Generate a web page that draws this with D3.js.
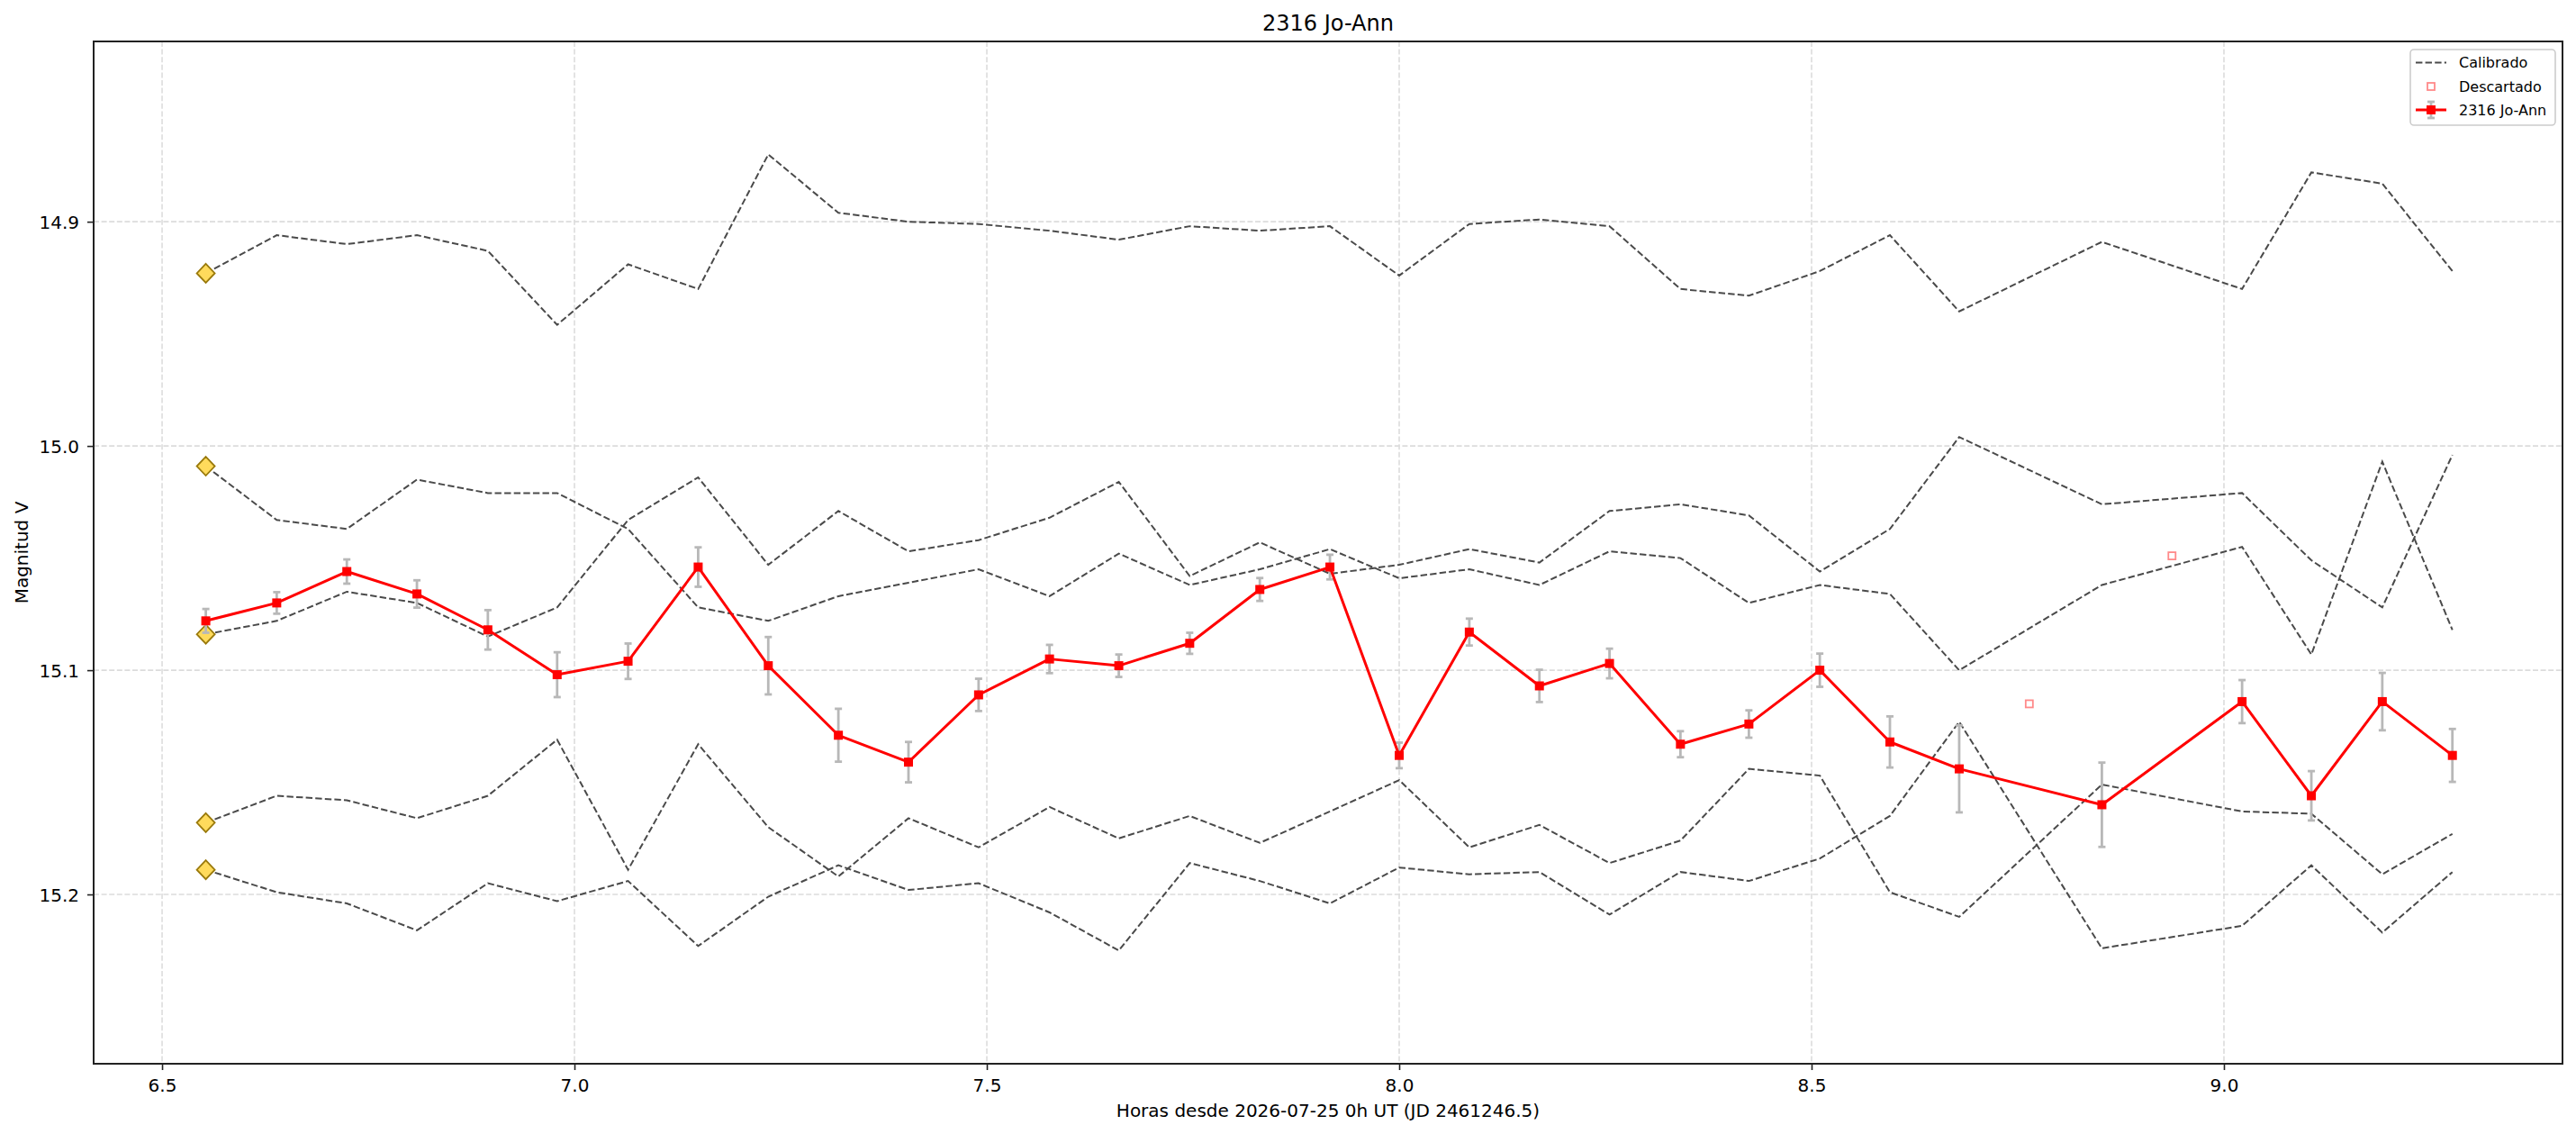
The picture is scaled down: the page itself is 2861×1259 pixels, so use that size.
<!DOCTYPE html>
<html><head><meta charset="utf-8">
<script src="https://cdn.jsdelivr.net/npm/d3@7"></script>
<style>
html,body{margin:0;padding:0;background:#fff;}
svg{display:block;font-family:"DejaVu Sans",sans-serif;}
</style></head>
<body>
<svg id="chart" width="2861" height="1259"></svg>
<script>
// ---------------- data ----------------
const validTimes = [6.553, 6.639, 6.724, 6.809, 6.895, 6.979, 7.065, 7.150, 7.235, 7.320,
  7.405, 7.490, 7.576, 7.660, 7.746, 7.831, 7.916, 8.000, 8.085, 8.170,
  8.255, 8.341, 8.424, 8.510, 8.595, 8.679, 8.852, 9.022, 9.106, 9.192, 9.277];
const targetMag = [15.078, 15.070, 15.056, 15.066, 15.082, 15.102, 15.096, 15.054, 15.098, 15.129,
  15.141, 15.111, 15.095, 15.098, 15.088, 15.064, 15.054, 15.138, 15.083, 15.107,
  15.097, 15.133, 15.124, 15.100, 15.132, 15.144, 15.160, 15.114, 15.156, 15.114, 15.138];
const targetErr = [0.0053, 0.0048, 0.0054, 0.0061, 0.0088, 0.0100, 0.0079, 0.0088, 0.0128, 0.0118,
  0.0090, 0.0072, 0.0063, 0.0050, 0.0047, 0.0051, 0.0055, 0.0057, 0.0060, 0.0072,
  0.0066, 0.0058, 0.0061, 0.0074, 0.0114, 0.0194, 0.0188, 0.0096, 0.0110, 0.0128, 0.0118];
const discardedTimes = [8.764, 8.937];
const discardedMag = [15.115, 15.049];
const compA = [14.923, 14.906, 14.910, 14.906, 14.913, 14.946, 14.919, 14.930, 14.870, 14.896,
  14.900, 14.901, 14.904, 14.908, 14.902, 14.904, 14.902, 14.924, 14.901, 14.899,
  14.902, 14.930, 14.933, 14.922, 14.906, 14.940, 14.909, 14.930, 14.878, 14.883, 14.922];
const compB = [15.009, 15.033, 15.037, 15.015, 15.021, 15.021, 15.037, 15.072, 15.078, 15.067,
  15.061, 15.055, 15.067, 15.048, 15.062, 15.055, 15.046, 15.059, 15.055, 15.062,
  15.047, 15.050, 15.070, 15.062, 15.066, 15.100, 15.062, 15.045, 15.093, 15.007, 15.082];
const compC = [15.084, 15.078, 15.065, 15.070, 15.085, 15.072, 15.033, 15.014, 15.053, 15.029,
  15.047, 15.042, 15.032, 15.016, 15.058, 15.043, 15.057, 15.053, 15.046, 15.052,
  15.029, 15.026, 15.031, 15.056, 15.037, 14.996, 15.026, 15.021, 15.051, 15.072, 15.004];
const compD = [15.168, 15.156, 15.158, 15.166, 15.156, 15.131, 15.189, 15.133, 15.170, 15.192,
  15.166, 15.179, 15.161, 15.175, 15.165, 15.177, 15.163, 15.149, 15.179, 15.169,
  15.186, 15.176, 15.144, 15.147, 15.199, 15.210, 15.151, 15.163, 15.164, 15.191, 15.173];
const compE = [15.189, 15.199, 15.204, 15.216, 15.195, 15.203, 15.194, 15.223, 15.201, 15.187,
  15.198, 15.195, 15.208, 15.225, 15.186, 15.194, 15.204, 15.188, 15.191, 15.190,
  15.209, 15.190, 15.194, 15.184, 15.165, 15.123, 15.224, 15.214, 15.187, 15.217, 15.190];
const xTicks = [6.5, 7.0, 7.5, 8.0, 8.5, 9.0];
const yTicks = [14.9, 15.0, 15.1, 15.2];
const xDomain = [6.417, 9.4105];
const yDomain = [14.8196, 15.2755];
const titleText = "2316 Jo-Ann";
const xLabelText = "Horas desde 2026-07-25 0h UT (JD 2461246.5)";
const yLabelText = "Magnitud V";
const legendLabels = ["Calibrado", "Descartado", "2316 Jo-Ann"];

// ---------------- layout ----------------
const W = 2861, H = 1259;
const L = 104, R = 2846, T = 46, B = 1181;
const svg = d3.select("#chart");
const x = d3.scaleLinear().domain(xDomain).range([L, R]);
const y = d3.scaleLinear().domain(yDomain).range([T, B]);

svg.append("rect").attr("width", W).attr("height", H).attr("fill", "#fff");
svg.append("defs").append("clipPath").attr("id", "clip")
  .append("rect").attr("x", L).attr("y", T).attr("width", R - L).attr("height", B - T);

// grid
const grid = svg.append("g").attr("clip-path", "url(#clip)");
grid.selectAll("line.gx").data(xTicks).join("line")
  .attr("x1", d => x(d)).attr("x2", d => x(d)).attr("y1", T).attr("y2", B)
  .attr("stroke", "#dcdcdc").attr("stroke-width", 1.6).attr("stroke-dasharray", "6,2.6");
grid.selectAll("line.gy").data(yTicks).join("line")
  .attr("y1", d => y(d)).attr("y2", d => y(d)).attr("x1", L).attr("x2", R)
  .attr("stroke", "#dcdcdc").attr("stroke-width", 1.6).attr("stroke-dasharray", "6,2.6");

const plot = svg.append("g").attr("clip-path", "url(#clip)");

// comparison stars
const comps = [compA, compB, compC, compD, compE];
const line = d3.line().x(d => x(d[0])).y(d => y(d[1]));
comps.forEach(c => {
  const pts = validTimes.map((t, i) => [t, c[i]]);
  plot.append("path").attr("d", line(pts)).attr("fill", "none")
    .attr("stroke", "#4a4a4a").attr("stroke-width", 2).attr("stroke-dasharray", "7.4,3.2");
});
// diamonds at first point
comps.forEach(c => {
  const cx = x(validTimes[0]), cy = y(c[0]);
  plot.append("path")
    .attr("d", `M${cx},${cy - 10.5}L${cx + 10},${cy}L${cx},${cy + 10.5}L${cx - 10},${cy}Z`)
    .attr("fill", "#ffdb5c").attr("stroke", "#9a7a0c").attr("stroke-width", 1.8);
});

// error bars
const eb = plot.append("g").attr("stroke", "#b8b8b8").attr("stroke-width", 2.8);
validTimes.forEach((t, i) => {
  const cx = x(t), y1 = y(targetMag[i] - targetErr[i]), y2 = y(targetMag[i] + targetErr[i]);
  eb.append("line").attr("x1", cx).attr("x2", cx).attr("y1", y1).attr("y2", y2);
  eb.append("line").attr("x1", cx - 4).attr("x2", cx + 4).attr("y1", y1).attr("y2", y1);
  eb.append("line").attr("x1", cx - 4).attr("x2", cx + 4).attr("y1", y2).attr("y2", y2);
});

// target line
const tpts = validTimes.map((t, i) => [t, targetMag[i]]);
plot.append("path").attr("d", line(tpts)).attr("fill", "none")
  .attr("stroke", "#ff0000").attr("stroke-width", 3).attr("stroke-linejoin", "round");
plot.selectAll("rect.tm").data(tpts).join("rect")
  .attr("x", d => x(d[0]) - 5).attr("y", d => y(d[1]) - 5)
  .attr("width", 10).attr("height", 10).attr("fill", "#ff0000");

// discarded
plot.selectAll("rect.ds").data(discardedTimes.map((t, i) => [t, discardedMag[i]])).join("rect")
  .attr("x", d => x(d[0]) - 4).attr("y", d => y(d[1]) - 4)
  .attr("width", 8).attr("height", 8).attr("fill", "none")
  .attr("stroke", "#ff8a8a").attr("stroke-width", 1.8);

// axes
const axStyle = g => {
  g.select(".domain").remove();
  g.selectAll(".tick line").attr("stroke", "#222").attr("stroke-width", 1.6);
  g.selectAll(".tick text").attr("fill", "#000").attr("font-size", 20)
    .attr("font-family", "DejaVu Sans, sans-serif");
};
const gx = svg.append("g").attr("transform", `translate(0,${B})`)
  .call(d3.axisBottom(x).tickValues(xTicks).tickFormat(d3.format(".1f")).tickSize(7).tickPadding(7));
axStyle(gx);
gx.selectAll(".tick text").attr("y", 31).attr("dy", null);
const gy = svg.append("g").attr("transform", `translate(${L},0)`)
  .call(d3.axisLeft(y).tickValues(yTicks).tickFormat(d3.format(".1f")).tickSize(7).tickPadding(9));
axStyle(gy);
gy.selectAll(".tick text").attr("x", -16).attr("dy", "0.36em");

// frame
svg.append("rect").attr("x", L).attr("y", T).attr("width", R - L).attr("height", B - T)
  .attr("fill", "none").attr("stroke", "#222").attr("stroke-width", 2);

// labels
svg.append("text").attr("x", (L + R) / 2).attr("y", 34).attr("text-anchor", "middle")
  .attr("font-size", 24).attr("fill", "#000").text(titleText);
svg.append("text").attr("x", (L + R) / 2).attr("y", 1240).attr("text-anchor", "middle")
  .attr("font-size", 20).attr("fill", "#000").text(xLabelText);
svg.append("text").attr("transform", `translate(31,${(T + B) / 2}) rotate(-90)`)
  .attr("text-anchor", "middle").attr("font-size", 20).attr("fill", "#000").text(yLabelText);

// legend
const lg = svg.append("g");
lg.append("rect").attr("x", 2677).attr("y", 55).attr("width", 161).attr("height", 84)
  .attr("rx", 4).attr("fill", "#fff").attr("fill-opacity", 0.85)
  .attr("stroke", "#cccccc").attr("stroke-width", 1.6);
const rows = [69.5, 96, 122];
lg.append("line").attr("x1", 2683).attr("x2", 2717).attr("y1", rows[0]).attr("y2", rows[0])
  .attr("stroke", "#4a4a4a").attr("stroke-width", 2).attr("stroke-dasharray", "7.4,3.2");
lg.append("rect").attr("x", 2696).attr("y", rows[1] - 4).attr("width", 8).attr("height", 8)
  .attr("fill", "none").attr("stroke", "#ff8a8a").attr("stroke-width", 1.8);
lg.append("line").attr("x1", 2700).attr("x2", 2700).attr("y1", rows[2] - 9).attr("y2", rows[2] + 9)
  .attr("stroke", "#b8b8b8").attr("stroke-width", 2.8);
[rows[2] - 9, rows[2] + 9].forEach(yy => lg.append("line").attr("x1", 2696).attr("x2", 2704)
  .attr("y1", yy).attr("y2", yy).attr("stroke", "#b8b8b8").attr("stroke-width", 2.8));
lg.append("line").attr("x1", 2683).attr("x2", 2717).attr("y1", rows[2]).attr("y2", rows[2])
  .attr("stroke", "#ff0000").attr("stroke-width", 3);
lg.append("rect").attr("x", 2695).attr("y", rows[2] - 5).attr("width", 10).attr("height", 10)
  .attr("fill", "#ff0000");
legendLabels.forEach((t, i) => lg.append("text").attr("x", 2731).attr("y", rows[i])
  .attr("dy", "0.36em").attr("font-size", 16).attr("fill", "#000").text(t));
</script>
</body></html>
